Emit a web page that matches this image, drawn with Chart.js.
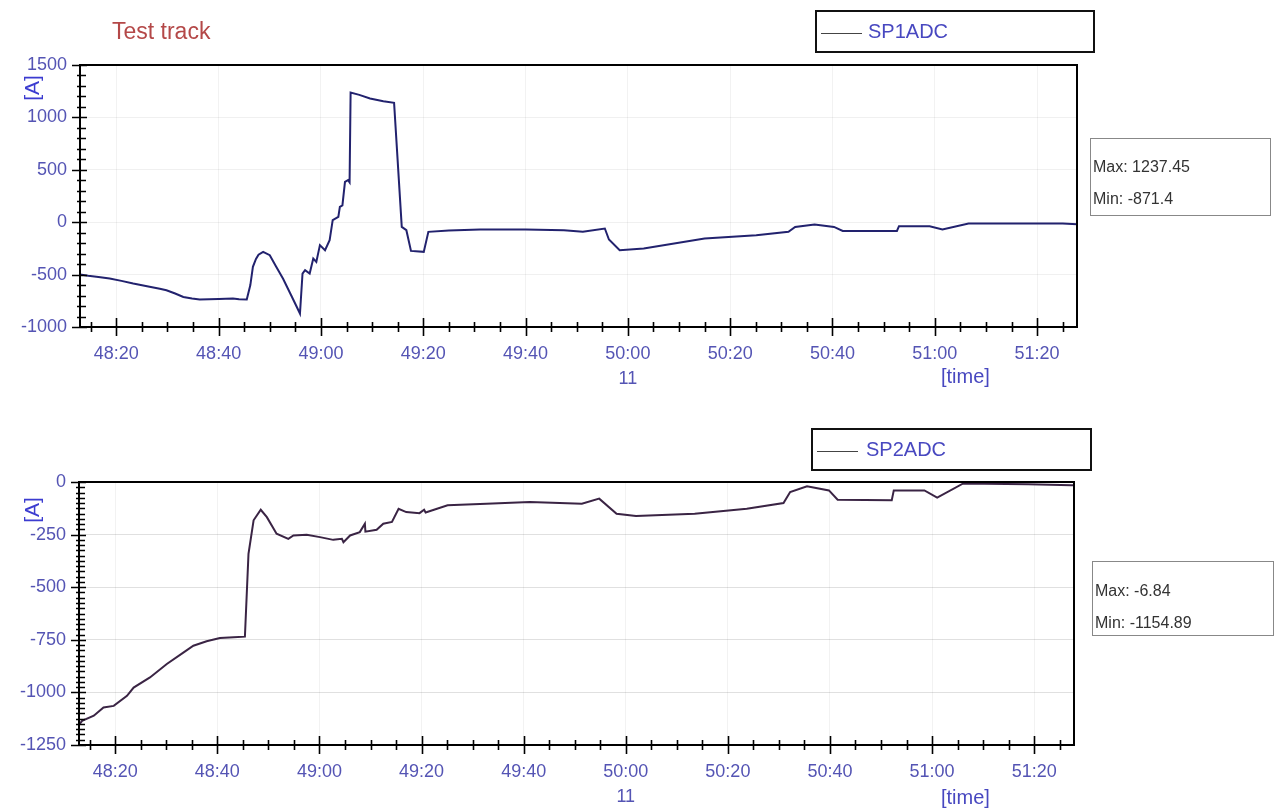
<!DOCTYPE html>
<html>
<head>
<meta charset="utf-8">
<script src="https://cdn.jsdelivr.net/npm/chart.js@4/dist/chart.umd.min.js"></script>
<style>
    body { margin: 0; background: #fff; font-family: "Liberation Sans", Arial, sans-serif; }
    #page { position: relative; width: 1277px; height: 809px; overflow: hidden; }
    .box { position: absolute; }
    .txt { position: absolute; white-space: nowrap; }
    .legend { border: 2px solid #111; box-sizing: border-box; }
    .legend .sample { position: absolute; height: 0; border-top: 1.5px solid #444; }
    .legend span { position: absolute; color: #4848c0; font-size: 20px; }
    .stats { border: 1px solid #888; box-sizing: border-box; }
    .stats div { position: absolute; left: 2px; color: #333; font-size: 16px; }
    .unit { color: #3c3cd0; font-size: 21px; transform: rotate(-90deg); transform-origin: center; }
</style>
</head>
<body>
<div id="page">
    <div class="box" style="left:0;top:0;width:1277px;height:400px"><canvas id="chart1"></canvas></div>
    <div class="box" style="left:0;top:400px;width:1277px;height:409px"><canvas id="chart2"></canvas></div>

    <div class="txt" style="left:112px;top:18px;color:#b44848;font-size:23px">Test track</div>

    <div class="box legend" style="left:815px;top:10px;width:280px;height:43px">
        <div class="sample" style="left:4px;top:21px;width:41px"></div>
        <span style="left:51px;top:8px">SP1ADC</span>
    </div>
    <div class="box legend" style="left:811px;top:428px;width:281px;height:43px">
        <div class="sample" style="left:4px;top:21px;width:41px"></div>
        <span style="left:53px;top:8px">SP2ADC</span>
    </div>

    <div class="box stats" style="left:1090px;top:138px;width:181px;height:78px">
        <div id="max1" style="top:19px"></div>
        <div id="min1" style="top:51px"></div>
    </div>
    <div class="box stats" style="left:1092px;top:561px;width:182px;height:75px">
        <div id="max2" style="top:20px"></div>
        <div id="min2" style="top:52px"></div>
    </div>

    <div class="txt unit" style="left:19px;top:76px">[A]</div>
    <div class="txt unit" style="left:19px;top:498px">[A]</div>
    <div class="txt" style="left:941px;top:365px;color:#4848c0;font-size:20px">[time]</div>
    <div class="txt" style="left:941px;top:786px;color:#4848c0;font-size:20px">[time]</div>
</div>

<script>
// times are seconds after 48:00
const xTickLabels = ['48:20', '48:40', '49:00', '49:20', '49:40', '50:00', '50:20', '50:40', '51:00', '51:20'];
const hourLabel = '11';

const sp1Ticks = [1500, 1000, 500, 0, -500, -1000];
const sp2Ticks = [0, -250, -500, -750, -1000, -1250];

const sp1Time = [12.9, 14.5, 16.5, 18.7, 21.0, 23.3, 26.5, 28.5, 29.8, 31.5, 33.1, 34.8, 36.3, 40.0, 42.8, 44.0,
    45.5, 46.2, 46.7, 47.3, 47.8, 48.7, 50.0, 51.2, 52.6, 54.2, 55.9, 56.4, 56.9, 57.8, 58.5, 59.1,
    59.8, 60.8, 61.7, 62.3, 63.4, 63.7, 64.2, 64.7, 65.3, 65.6, 65.8, 67.5, 69.6, 72.2, 74.3, 75.8,
    76.7, 77.6, 80.1, 81.0, 85.0, 91.1, 100.0, 107.5, 111.2, 115.5, 116.3, 118.4, 123.1, 135.0, 145.1,
    151.4, 152.7, 156.5, 160.3, 162.0, 172.6, 173.0, 179.0, 181.5, 186.6, 198.5, 205.0, 207.8];
const sp1Values = [-500, -512, -522, -537, -560, -585, -615, -635, -649, -680, -713, -728, -738, -734, -728, -735,
    -738, -600, -426, -350, -310, -283, -315, -420, -540, -700, -871.4, -490, -458, -490, -347, -379,
    -219, -267, -172, 19, 51, 146, 160, 385, 401, 380, 1237.45, 1215, 1180, 1155, 1139, -45,
    -76, -274, -283, -92, -80, -70, -70, -76, -92, -60, -165, -267, -251, -156, -124,
    -92, -45, -22, -45, -83, -83, -38, -38, -70, -13, -13, -13, -19];

const sp2Time = [12.9, 13.5, 15.8, 17.7, 19.7, 22.3, 23.6, 26.8, 30.1, 33.4, 35.3, 37.9, 40.5, 43.2, 45.4,
    46.1, 47.1, 48.5, 49.7, 51.6, 53.9, 54.9, 57.5, 60.1, 62.7, 64.4, 64.7, 66.0, 67.9, 68.9, 69.0,
    71.2, 72.5, 74.2, 75.5, 77.0, 79.6, 80.5, 80.8, 85.1, 92.7, 101.2, 111.4, 114.8, 118.2, 122.0,
    133.5, 143.7, 150.9, 152.2, 155.5, 159.8, 161.5, 172.1, 172.5, 178.5, 181.0, 186.1, 198.8, 207.3, 207.8];
const sp2Values = [-1154.89, -1135, -1111, -1072, -1064, -1016, -977, -929, -865, -810, -778, -757, -742, -738, -735,
    -341, -182, -132, -167, -246, -270, -254, -251, -262, -275, -270, -286, -254, -238, -198, -236,
    -227, -198, -190, -127, -143, -148, -132, -145, -111, -103, -95, -103, -79, -151, -162,
    -151, -127, -100, -48, -20, -40, -84, -87, -40, -40, -74, -6.84, -11, -16, -15];

const tickColor = '#5454b4';
const fontFamily = '"Liberation Sans", Arial, sans-serif';

function toSeconds(label) {
    const [m, s] = label.split(':').map(Number);
    return (m - 48) * 60 + s;
}

const axisMarks = {
    id: 'axisMarks',
    afterDraw(chart, args, opts) {
        const { ctx, chartArea: a, scales: { x, y } } = chart;
        ctx.save();
        ctx.strokeStyle = '#000';
        ctx.lineWidth = 2;
        ctx.strokeRect(a.left, a.top, a.right - a.left, a.bottom - a.top);
        ctx.lineWidth = 1.6;
        ctx.beginPath();
        for (let s = 15; s <= x.max; s += 5) {
            const px = Math.round(x.getPixelForValue(s)) + 0.5;
            const h = s % 20 === 0 ? 9 : 5;
            ctx.moveTo(px, a.bottom - h);
            ctx.lineTo(px, a.bottom + h);
        }
        for (let v = y.min; v <= y.max; v += opts.yMinor) {
            const py = Math.round(y.getPixelForValue(v)) + 0.5;
            const major = v % opts.yMajor === 0;
            ctx.moveTo(a.left - (major ? 8 : 3), py);
            ctx.lineTo(a.left + (major ? 7 : 6), py);
        }
        ctx.stroke();
        ctx.restore();
    }
};

function makeChart(id, times, values, yTicks, lineColor, layout) {
    const ctx = document.getElementById(id);
    return new Chart(ctx, {
        type: 'line',
        data: {
            datasets: [{
                data: times.map((t, i) => ({ x: t, y: values[i] })),
                borderColor: lineColor,
                borderWidth: 2,
                pointRadius: 0,
                tension: 0
            }]
        },
        options: {
            responsive: true,
            maintainAspectRatio: false,
            animation: false,
            layout: { padding: { top: layout.top, right: layout.right, left: 0, bottom: 0 } },
            plugins: {
                legend: { display: false },
                tooltip: { enabled: false },
                axisMarks: { yMinor: layout.yMinor, yMajor: layout.yMajor }
            },
            scales: {
                x: {
                    type: 'linear',
                    min: 12.9,
                    max: 207.8,
                    afterFit: s => { s.height = layout.xHeight; },
                    afterBuildTicks: s => { s.ticks = xTickLabels.map(l => ({ value: toSeconds(l) })); },
                    grid: { color: 'rgba(0,0,0,0.05)', drawTicks: false },
                    border: { display: true, color: '#000', width: 2 },
                    ticks: {
                        autoSkip: false,
                        maxRotation: 0,
                        padding: 14,
                        color: tickColor,
                        font: { family: fontFamily, size: 18, lineHeight: 1.4 },
                        callback: v => {
                            const label = xTickLabels.find(l => toSeconds(l) === v);
                            return label === '50:00' ? [label, hourLabel] : label;
                        }
                    }
                },
                y: {
                    min: yTicks[yTicks.length - 1],
                    max: yTicks[0],
                    afterFit: s => { s.width = layout.yWidth; },
                    afterBuildTicks: s => { s.ticks = yTicks.map(v => ({ value: v })); },
                    grid: { color: layout.gridColor, drawTicks: false },
                    border: { display: true, color: '#000', width: 2 },
                    ticks: {
                        padding: 13,
                        color: tickColor,
                        font: { family: fontFamily, size: 18 },
                        callback: v => String(v)
                    }
                }
            }
        },
        plugins: [axisMarks]
    });
}

makeChart('chart1', sp1Time, sp1Values, sp1Ticks, '#22226e', {
    top: 65, right: 200, xHeight: 73, yWidth: 80, yMinor: 100, yMajor: 500, gridColor: 'rgba(0,0,0,0.06)'
});
makeChart('chart2', sp2Time, sp2Values, sp2Ticks, '#3a2444', {
    top: 82, right: 203, xHeight: 64, yWidth: 79, yMinor: 25, yMajor: 250, gridColor: 'rgba(0,0,0,0.12)'
});

document.getElementById('max1').textContent = 'Max: ' + Math.max(...sp1Values);
document.getElementById('min1').textContent = 'Min: ' + Math.min(...sp1Values);
document.getElementById('max2').textContent = 'Max: ' + Math.max(...sp2Values);
document.getElementById('min2').textContent = 'Min: ' + Math.min(...sp2Values);
</script>
</body>
</html>
